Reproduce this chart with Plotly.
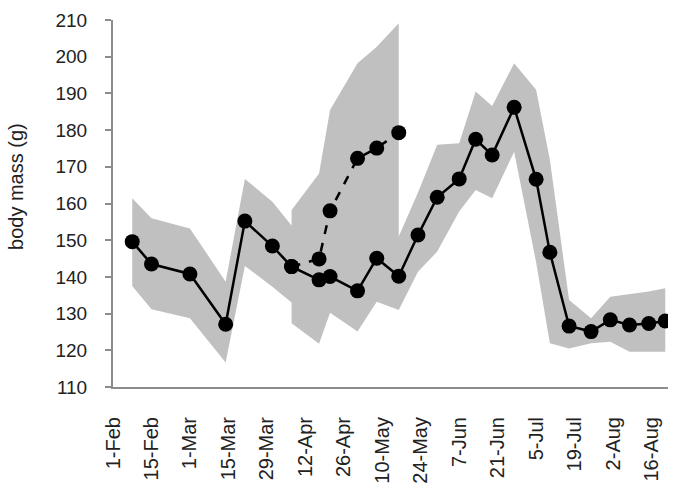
import plotly.graph_objects as go

# ---- data ----
dates_main = ["2013-02-08", "2013-02-15", "2013-03-01", "2013-03-14", "2013-03-21", "2013-03-31",
              "2013-04-07", "2013-04-17", "2013-04-21", "2013-05-01", "2013-05-08", "2013-05-16",
              "2013-05-23", "2013-05-30", "2013-06-07", "2013-06-13", "2013-06-19", "2013-06-27",
              "2013-07-05", "2013-07-10", "2013-07-17", "2013-07-25", "2013-08-01", "2013-08-08",
              "2013-08-15", "2013-08-21"]
mass_main = [149.6, 143.5, 140.8, 127.1, 155.2, 148.4,
             142.8, 139.2, 140.1, 136.2, 145.1, 140.2,
             151.4, 161.7, 166.7, 177.5, 173.2, 186.2,
             166.6, 146.7, 126.6, 125.1, 128.3, 126.9,
             127.3, 128.0]

dates_alt = ["2013-04-07", "2013-04-17", "2013-04-21", "2013-05-01", "2013-05-08", "2013-05-16"]
mass_alt = [142.8, 144.9, 158.0, 172.3, 175.1, 179.3]

band_dates = ["2013-02-08", "2013-02-15", "2013-03-01", "2013-03-14", "2013-03-21", "2013-03-31",
              "2013-04-07", "2013-04-07", "2013-04-17", "2013-04-21", "2013-05-01", "2013-05-08",
              "2013-05-16", "2013-05-16", "2013-05-23", "2013-05-30", "2013-06-07", "2013-06-13",
              "2013-06-19", "2013-06-27", "2013-07-05", "2013-07-10", "2013-07-17", "2013-07-25",
              "2013-08-01", "2013-08-08", "2013-08-15", "2013-08-21"]
band_upper = [161.4, 156.0, 153.2, 138.7, 166.7, 160.5,
              154.0, 158.2, 168.2, 185.5, 198.2, 202.7,
              209.1, 151.0, 163.0, 176.0, 176.4, 190.5,
              186.6, 198.2, 191.0, 171.9, 133.7, 128.7,
              134.6, 135.2, 136.0, 136.9]
band_lower = [137.5, 131.2, 128.7, 116.7, 143.0, 137.3,
              133.0, 127.4, 121.8, 130.2, 125.1, 133.2,
              131.0, 131.0, 141.4, 146.9, 157.8, 163.7,
              161.4, 174.1, 144.0, 121.9, 120.5, 121.9,
              122.3, 119.6, 119.6, 119.6]

y_ticks = [110, 120, 130, 140, 150, 160, 170, 180, 190, 200, 210]

FONT = "Liberation Sans, Arial, sans-serif"

fig = go.Figure()

fig.add_trace(go.Scatter(
    x=band_dates + band_dates[::-1],
    y=band_upper + band_lower[::-1],
    fill="toself", fillcolor="#c0c0c0",
    line=dict(width=0), mode="lines", hoverinfo="skip", showlegend=False,
))

fig.add_trace(go.Scatter(
    x=dates_alt, y=mass_alt, mode="lines+markers",
    line=dict(color="black", width=2.5, dash="dash"),
    marker=dict(color="black", size=15), showlegend=False,
))

fig.add_trace(go.Scatter(
    x=dates_main, y=mass_main, mode="lines+markers",
    line=dict(color="black", width=2.5),
    marker=dict(color="black", size=15), showlegend=False,
))

fig.add_annotation(
    text="body mass (g)", textangle=-90,
    xref="paper", yref="paper", x=0, y=0.545,
    xanchor="center", yanchor="middle", xshift=-97, showarrow=False,
    font=dict(family=FONT, size=20, color="#222"),
)

fig.update_layout(
    width=679, height=489,
    margin=dict(l=113, r=11, t=20, b=102),
    paper_bgcolor="white", plot_bgcolor="white",
    showlegend=False,
    font=dict(family=FONT, color="#222"),
)

fig.update_xaxes(
    type="date", automargin=False,
    range=["2013-02-01", "2013-08-22"],
    tick0="2013-02-01", dtick=14 * 86400000,
    tickformat="%-d-%b", tickangle=-90,
    ticks="outside", ticklen=20, tickcolor="rgba(0,0,0,0)",
    showgrid=False, zeroline=False,
    showline=True, linecolor="#8c8c8c", linewidth=2,
    tickfont=dict(family=FONT, size=20, color="#222"),
)

fig.update_yaxes(
    automargin=False,
    range=[110, 210], tickvals=y_ticks,
    ticks="outside", ticklen=6, tickcolor="#8c8c8c", tickwidth=2,
    ticklabelstandoff=14,
    showgrid=False, zeroline=False,
    showline=True, linecolor="#8c8c8c", linewidth=2,
    tickfont=dict(family=FONT, size=19, color="#222"),
)

fig.write_html("out.html")
